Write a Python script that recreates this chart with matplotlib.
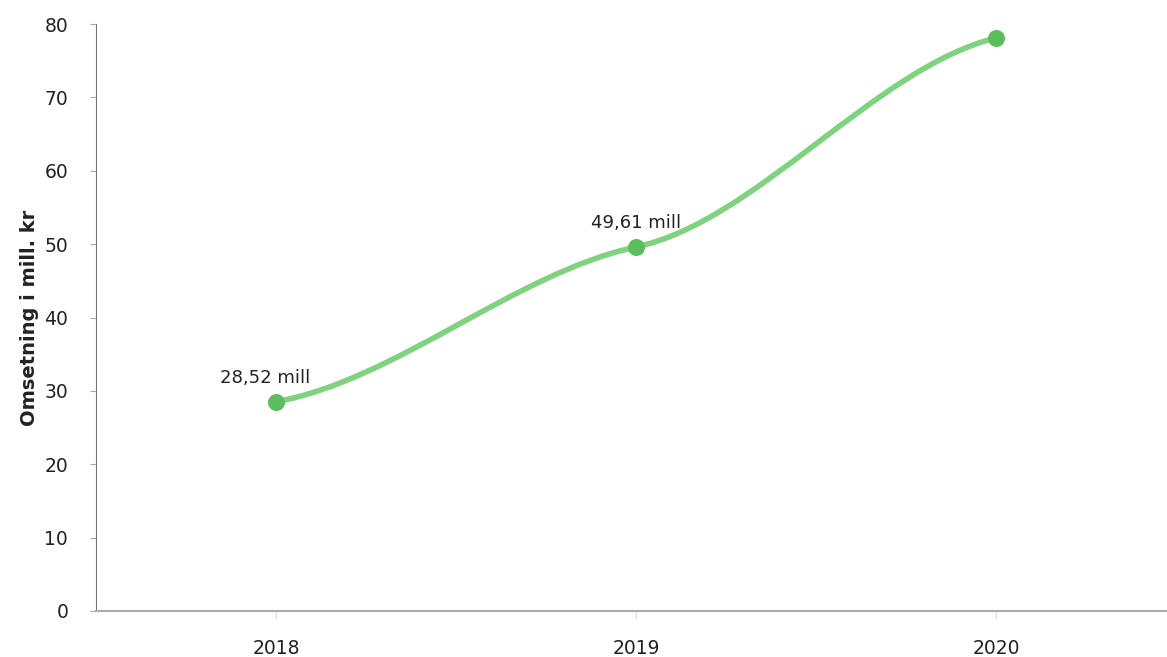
import matplotlib.pyplot as plt
from matplotlib.path import Path
from matplotlib.patches import PathPatch

# Data
years = ['2018', '2019', '2020']
omsetning = [28.52, 49.61, 78.1]
labels = ['28,52 mill', '49,61 mill', None]

line_color = '#7fd37f'
marker_color = '#5cbd5c'


def smooth_path(xs, ys, k=0.42):
    # cubic hermite through the points, with damped tangents (S-shaped segments)
    n = len(xs)
    m = []
    for i in range(n):
        if i == 0:
            m.append(k * (ys[1] - ys[0]) / (xs[1] - xs[0]))
        elif i == n - 1:
            m.append(k * (ys[-1] - ys[-2]) / (xs[-1] - xs[-2]))
        else:
            m.append(k * (ys[i + 1] - ys[i - 1]) / (xs[i + 1] - xs[i - 1]))
    verts = [(xs[0], ys[0])]
    codes = [Path.MOVETO]
    for i in range(1, n):
        d = (xs[i] - xs[i - 1]) / 3
        verts += [(xs[i - 1] + d, ys[i - 1] + m[i - 1] * d),
                  (xs[i] - d, ys[i] - m[i] * d),
                  (xs[i], ys[i])]
        codes += [Path.CURVE4] * 3
    return Path(verts, codes)


fig = plt.figure(figsize=(11.67, 6.57), dpi=100)
ax = fig.add_axes([96 / 1167, 1 - 611 / 657, 1071 / 1167, 587 / 657])

xs = list(range(len(years)))
ax.add_patch(PathPatch(smooth_path(xs, omsetning), fill=False,
                       edgecolor=line_color, lw=4, capstyle='round', zorder=2))
ax.scatter(xs, omsetning, s=150, color=marker_color, zorder=3, linewidths=0)

for x, v, lab in zip(xs, omsetning, labels):
    if lab:
        dx = -8 if x == 0 else 0
        ax.annotate(lab, (x, v), xytext=(dx, 17), textcoords='offset points',
                    ha='center', va='center', fontsize=13, color='#222222')

ax.set_xlim(-0.5, 2.475)
ax.set_ylim(0, 80)
ax.set_yticks(range(0, 81, 10))
ax.set_xticks(xs)
ax.set_xticklabels(years)

ax.spines['top'].set_visible(False)
ax.spines['right'].set_visible(False)
ax.spines['left'].set_color('#777777')
ax.spines['bottom'].set_color('#aaaaaa')
ax.spines['bottom'].set_linewidth(1.5)
ax.tick_params(axis='y', length=4, color='#aaaaaa', labelsize=13.5, labelcolor='#222222', pad=16)
ax.tick_params(axis='x', length=6, color='#dddddd', labelsize=13.5, labelcolor='#222222', pad=14)

ax.set_ylabel('Omsetning i mill. kr', fontsize=14, fontweight='bold', color='#222222', labelpad=4)

fig.savefig('out.png', dpi=100)
